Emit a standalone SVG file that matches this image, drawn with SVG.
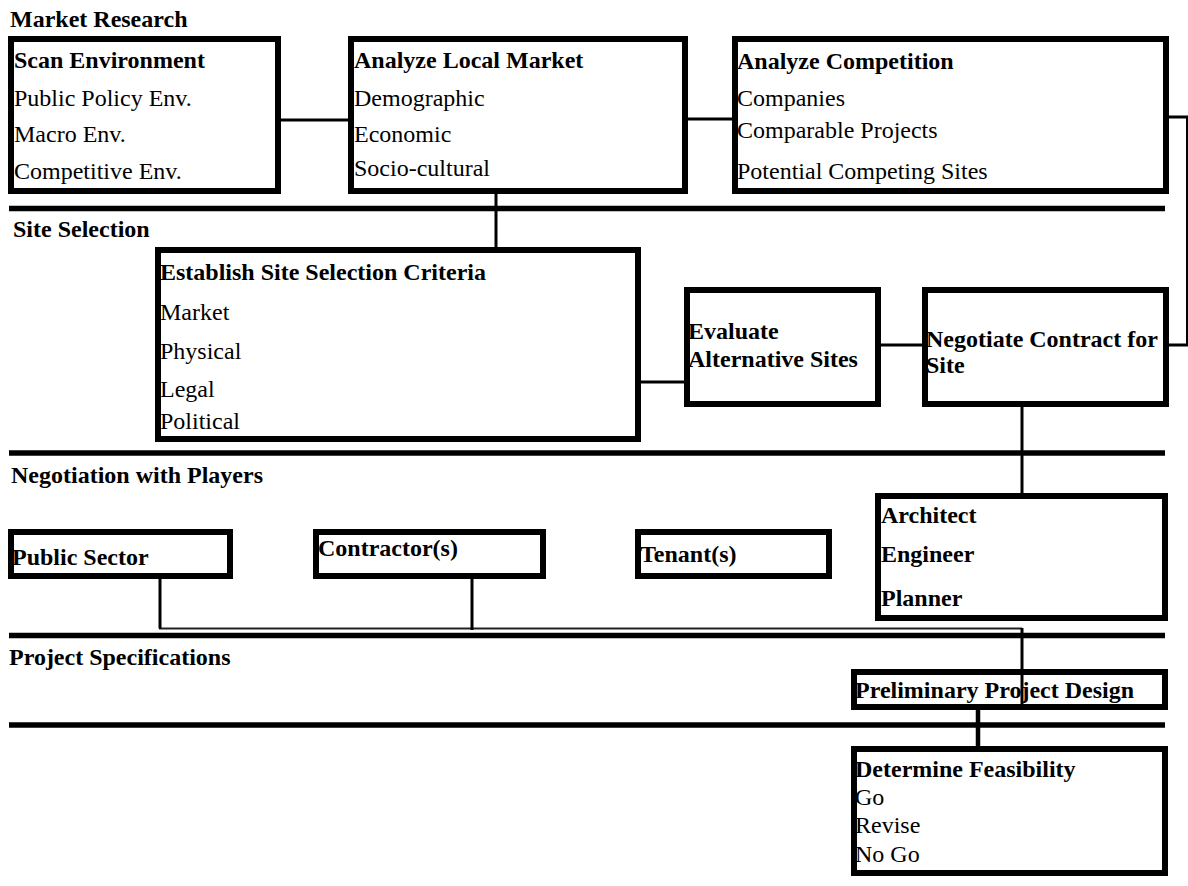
<svg xmlns="http://www.w3.org/2000/svg" width="1188" height="886" viewBox="0 0 1188 886">
  <style>
    text { font-family: "Liberation Serif", "Times New Roman", serif; font-size: 24px; fill: #000; }
    .b { font-weight: bold; }
    .box { fill: #fff; stroke: #000; stroke-width: 6; }
    .sep { stroke: #000; stroke-width: 5.5; }
    .link { fill: none; stroke: #000; stroke-width: 3; }
    .thin { fill: none; stroke: #222; stroke-width: 2; }
  </style>

  <!-- phase divider rules -->
  <g id="dividers">
    <line class="sep" x1="9" y1="208.5" x2="1165" y2="208.5"/>
    <line class="sep" x1="9" y1="453" x2="1165" y2="453"/>
    <line class="sep" x1="9" y1="635.5" x2="1165" y2="635.5"/>
    <line class="sep" x1="9" y1="725" x2="1165" y2="725"/>
  </g>

  <!-- phase headings -->
  <g id="headings">
    <text class="b" x="10" y="27">Market Research</text>
    <text class="b" x="13" y="237">Site Selection</text>
    <text class="b" x="11" y="483">Negotiation with Players</text>
    <text class="b" x="9" y="665">Project Specifications</text>
  </g>

  <!-- connectors -->
  <g id="connectors">
    <line class="link" x1="281" y1="120" x2="348" y2="120"/>
    <line class="link" x1="688" y1="119" x2="732" y2="119"/>
    <path class="link" d="M1169,117 H1187.5 V345 H1169"/>
    <line class="link" x1="496" y1="182" x2="496" y2="262"/>
    <line class="link" x1="641" y1="382" x2="684" y2="382"/>
    <line class="link" x1="881" y1="345" x2="922" y2="345"/>
    <line class="link" x1="1022" y1="407" x2="1022" y2="493"/>
    <path class="thin" d="M160,579 V628.5 H1022"/>
    <line class="link" x1="160" y1="579" x2="160" y2="628.5"/>
    <line class="link" x1="472" y1="572" x2="472" y2="630"/>
    <line class="link" x1="1022" y1="628" x2="1022" y2="707"/>
    <line class="link" x1="978" y1="705" x2="978" y2="757" style="stroke-width:4.5"/>
  </g>

  <g id="scan-environment">
    <rect class="box" x="11" y="39" width="267" height="152"/>
    <text class="b" x="14" y="68">Scan Environment</text>
    <text x="14" y="106">Public Policy Env.</text>
    <text x="14" y="142">Macro Env.</text>
    <text x="14" y="179">Competitive Env.</text>
  </g>

  <g id="analyze-local-market">
    <rect class="box" x="351" y="39" width="334" height="152"/>
    <text class="b" x="354" y="68">Analyze Local Market</text>
    <text x="354" y="106">Demographic</text>
    <text x="354" y="142">Economic</text>
    <text x="354" y="176">Socio-cultural</text>
  </g>

  <g id="analyze-competition">
    <rect class="box" x="735" y="39" width="431" height="152"/>
    <text class="b" x="737" y="69">Analyze Competition</text>
    <text x="737" y="106">Companies</text>
    <text x="737" y="138">Comparable Projects</text>
    <text x="737" y="179">Potential Competing Sites</text>
  </g>

  <g id="site-criteria">
    <rect class="box" x="158" y="250" width="480" height="189"/>
    <text class="b" x="160" y="280">Establish Site Selection Criteria</text>
    <text x="160" y="320">Market</text>
    <text x="160" y="359">Physical</text>
    <text x="160" y="397">Legal</text>
    <text x="160" y="429">Political</text>
  </g>

  <g id="evaluate-sites">
    <rect class="box" x="687" y="290" width="191" height="114"/>
    <text class="b" x="688" y="339">Evaluate</text>
    <text class="b" x="688" y="367">Alternative Sites</text>
  </g>

  <g id="negotiate-contract">
    <rect class="box" x="925" y="290" width="241" height="114"/>
    <text class="b" x="926" y="347">Negotiate Contract for</text>
    <text class="b" x="926" y="373">Site</text>
  </g>

  <g id="public-sector">
    <rect class="box" x="11" y="532" width="219" height="44"/>
    <text class="b" x="12" y="565">Public Sector</text>
  </g>

  <g id="contractors">
    <rect class="box" x="316" y="532" width="227" height="44"/>
    <text class="b" x="318" y="556">Contractor(s)</text>
  </g>

  <g id="tenants">
    <rect class="box" x="638" y="532" width="191" height="44"/>
    <text class="b" x="640" y="562">Tenant(s)</text>
  </g>

  <g id="design-team">
    <rect class="box" x="878" y="496" width="287" height="122"/>
    <text class="b" x="881" y="523">Architect</text>
    <text class="b" x="881" y="562">Engineer</text>
    <text class="b" x="881" y="606">Planner</text>
  </g>

  <g id="preliminary-design">
    <rect class="box" x="854" y="672" width="311" height="35" style="fill:none"/>
    <text class="b" x="855" y="698">Preliminary Project Design</text>
  </g>

  <g id="feasibility">
    <rect class="box" x="854" y="749" width="311" height="124"/>
    <text class="b" x="855" y="777">Determine Feasibility</text>
    <text x="855" y="805">Go</text>
    <text x="855" y="833">Revise</text>
    <text x="855" y="862">No Go</text>
  </g>
</svg>
